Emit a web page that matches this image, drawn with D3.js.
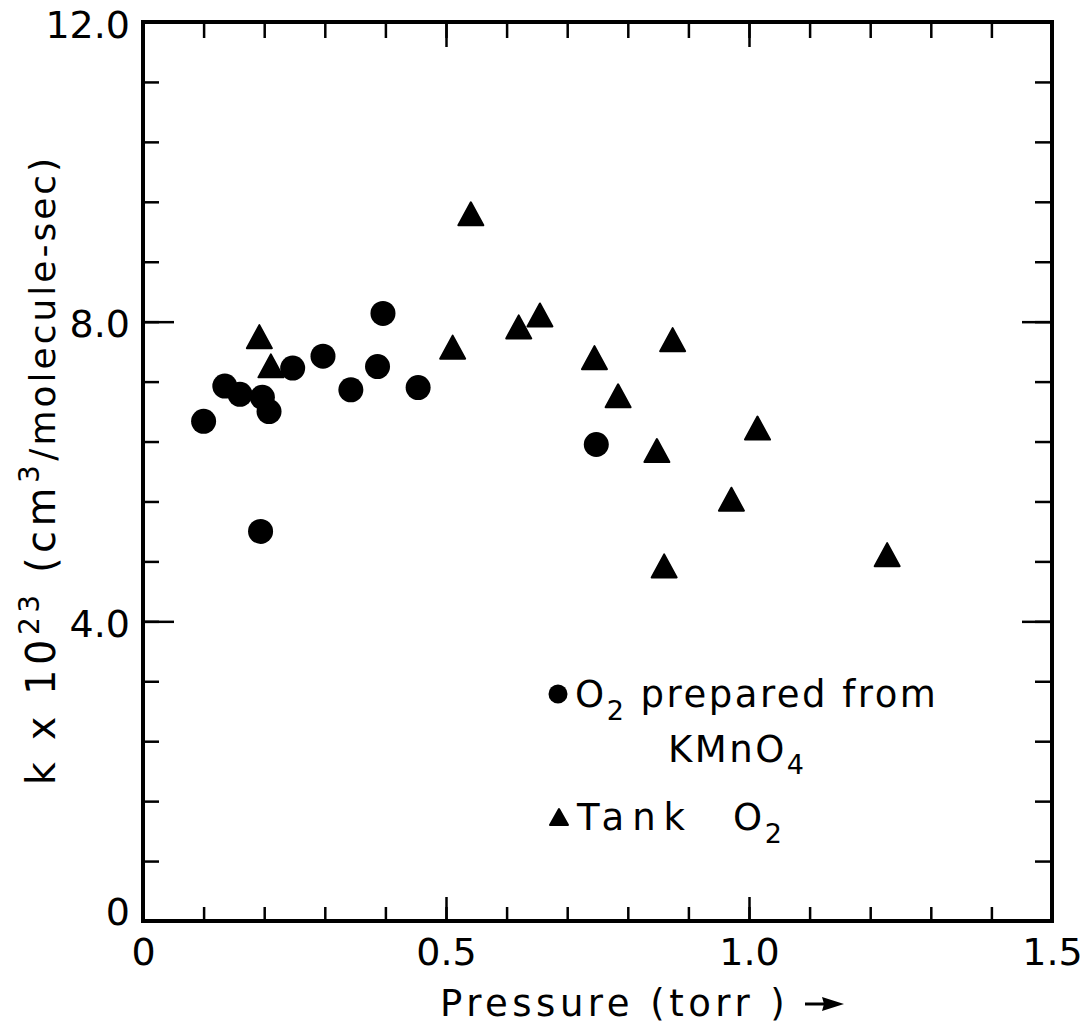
<!DOCTYPE html>
<html>

<head>
    <title>k vs Pressure</title>
    <script src="https://d3js.org/d3.v7.min.js"></script>
    <style>
        body { margin: 0; background: #fff; }
        text { font-family: "DejaVu Sans", sans-serif; fill: #000; }
    </style>
</head>

<body>

    <svg width="1091" height="1035" id="mainSvg"></svg>
    <script>
        // O2 prepared from KMnO4 (filled circles)
        const kmno4Pressure = [0.10, 0.135, 0.16, 0.197, 0.208, 0.194, 0.247, 0.297, 0.343, 0.387, 0.396, 0.454, 0.748];
        const kmno4K = [6.67, 7.14, 7.03, 6.99, 6.80, 5.20, 7.38, 7.54, 7.09, 7.40, 8.11, 7.12, 6.36];

        // Tank O2 (filled triangles)
        const tankPressure = [0.192, 0.211, 0.511, 0.541, 0.620, 0.655, 0.745, 0.784, 0.848, 0.874, 0.860, 0.971, 1.014, 1.228];
        const tankK = [7.80, 7.41, 7.66, 9.44, 7.93, 8.09, 7.52, 7.01, 6.28, 7.76, 4.74, 5.63, 6.58, 4.89];

        const xLabelTicks = [0, 0.5, 1.0, 1.5];
        const xTickLabels = ["0", "0.5", "1.0", "1.5"];
        const yLabelTicks = [0, 4, 8, 12];
        const yTickLabels = ["0", "4.0", "8.0", "12.0"];
        const xMajorTicks = [0.5, 1.0];
        const yMajorTicks = [4, 8];
        const xMinorStep = 0.1;
        const yMinorStep = 0.8;

        const mainSvg = d3.select("#mainSvg");
        const plotLeft = 143, plotRight = 1052, plotTop = 22, plotBottom = 921;

        const x = d3.scaleLinear().domain([0, 1.5]).range([plotLeft, plotRight]);
        const y = d3.scaleLinear().domain([0, 12]).range([plotBottom, plotTop]);

        const xMinor = d3.range(0, 1.5 + 1e-9, xMinorStep);
        const yMinor = d3.range(0, 12 + 1e-9, yMinorStep);

        // ticks only, pointing into the frame
        const drawTicks = function (axis, tx, ty, values, size) {
            mainSvg.append("g")
                .attr("transform", `translate(${tx},${ty})`)
                .call(axis.tickValues(values).tickSize(size).tickFormat(""))
                .call(g => g.select(".domain").remove())
                .selectAll("line")
                .attr("stroke", "#000")
                .attr("stroke-width", 2.5);
        }

        drawTicks(d3.axisBottom(x), 0, plotBottom, xMinor, -14);
        drawTicks(d3.axisBottom(x), 0, plotBottom, xMajorTicks, -24);
        drawTicks(d3.axisTop(x), 0, plotTop, xMinor, -16);
        drawTicks(d3.axisTop(x), 0, plotTop, xMajorTicks, -25);
        drawTicks(d3.axisLeft(y), plotLeft, 0, yMinor, -16);
        drawTicks(d3.axisLeft(y), plotLeft, 0, yMajorTicks, -31);
        drawTicks(d3.axisRight(y), plotRight, 0, yMinor, -17);
        drawTicks(d3.axisRight(y), plotRight, 0, yMajorTicks, -30);

        mainSvg.append("rect")
            .attr("x", plotLeft).attr("y", plotTop)
            .attr("width", plotRight - plotLeft).attr("height", plotBottom - plotTop)
            .attr("fill", "none")
            .attr("stroke", "#000")
            .attr("stroke-width", 4);

        // tick labels
        mainSvg.append("g")
            .attr("transform", `translate(0,${plotBottom})`)
            .call(d3.axisBottom(x).tickValues(xLabelTicks).tickSize(0).tickPadding(17)
                .tickFormat((d, i) => xTickLabels[i]))
            .call(g => g.select(".domain").remove())
            .selectAll("text")
            .attr("font-size", 38)
            .attr("font-family", "DejaVu Sans")
            .attr("fill", "#000");

        mainSvg.append("g")
            .attr("transform", `translate(${plotLeft},0)`)
            .call(d3.axisLeft(y).tickValues(yLabelTicks).tickSize(0).tickPadding(13)
                .tickFormat((d, i) => yTickLabels[i]))
            .call(g => g.select(".domain").remove())
            .selectAll("text")
            .attr("dy", d => d === 0 ? "0.1em" : "0.4em")
            .attr("font-size", 38)
            .attr("font-family", "DejaVu Sans")
            .attr("fill", "#000");

        // data
        mainSvg.append("g").selectAll("circle")
            .data(d3.zip(kmno4Pressure, kmno4K))
            .join("circle")
            .attr("cx", d => x(d[0]))
            .attr("cy", d => y(d[1]))
            .attr("r", 12.5)
            .attr("fill", "#000");

        const triangle = (w, h) => `M0,${-h / 2}L${w / 2},${h / 2}L${-w / 2},${h / 2}Z`;

        mainSvg.append("g").selectAll("path")
            .data(d3.zip(tankPressure, tankK))
            .join("path")
            .attr("d", triangle(25, 23))
            .attr("transform", d => `translate(${x(d[0])},${y(d[1])})`)
            .attr("fill", "#000")
            .attr("stroke", "#000")
            .attr("stroke-width", 2)
            .attr("stroke-linejoin", "round");

        // legend
        const legend = mainSvg.append("g")
            .attr("font-size", 37)
            .attr("letter-spacing", 2.5)
            .style("white-space", "pre");

        legend.append("circle")
            .attr("cx", 558).attr("cy", 694).attr("r", 9.5)
            .attr("fill", "#000");

        const l1 = legend.append("text").attr("x", 575).attr("y", 707);
        l1.append("tspan").text("O");
        l1.append("tspan").attr("dy", 13).attr("font-size", 27).text("2");
        l1.append("tspan").attr("dy", -13).text(" prepared  from");

        const l2 = legend.append("text").attr("x", 668).attr("y", 762);
        l2.append("tspan").text("KMnO");
        l2.append("tspan").attr("dy", 12).attr("font-size", 27).text("4");

        legend.append("path")
            .attr("d", triangle(18, 16))
            .attr("transform", "translate(559,817)")
            .attr("fill", "#000")
            .attr("stroke", "#000")
            .attr("stroke-width", 2)
            .attr("stroke-linejoin", "round");

        const l3 = legend.append("text").attr("y", 830);
        l3.append("tspan").attr("x", 577).attr("letter-spacing", 8).text("Tank");
        l3.append("tspan").attr("x", 733).text("O");
        l3.append("tspan").attr("dy", 13).attr("font-size", 27).text("2");

        // x axis title with arrow
        mainSvg.append("text")
            .attr("x", 440).attr("y", 1016)
            .attr("font-size", 37)
            .attr("letter-spacing", 4.5)
            .style("white-space", "pre")
            .text("Pressure (torr )");

        mainSvg.append("line")
            .attr("x1", 805).attr("x2", 828)
            .attr("y1", 1004).attr("y2", 1004)
            .attr("stroke", "#000").attr("stroke-width", 3);
        mainSvg.append("path")
            .attr("d", "M844,1004L822,997L824,1004L822,1011Z")
            .attr("fill", "#000");

        // y axis title
        const yTitle = mainSvg.append("text")
            .attr("transform", "translate(55,470) rotate(-90)")
            .attr("text-anchor", "middle")
            .attr("font-size", 40)
            .attr("letter-spacing", 4.5)
            .style("white-space", "pre");
        yTitle.append("tspan").text("k x 10");
        yTitle.append("tspan").attr("dy", -16).attr("font-size", 28).text("23");
        yTitle.append("tspan").attr("dy", 16).text(" (cm");
        yTitle.append("tspan").attr("dy", -16).attr("font-size", 28).text("3");
        yTitle.append("tspan").attr("dy", 16).attr("font-size", 36).attr("letter-spacing", 3).text("/molecule-sec)");
    </script>
</body>

</html>
